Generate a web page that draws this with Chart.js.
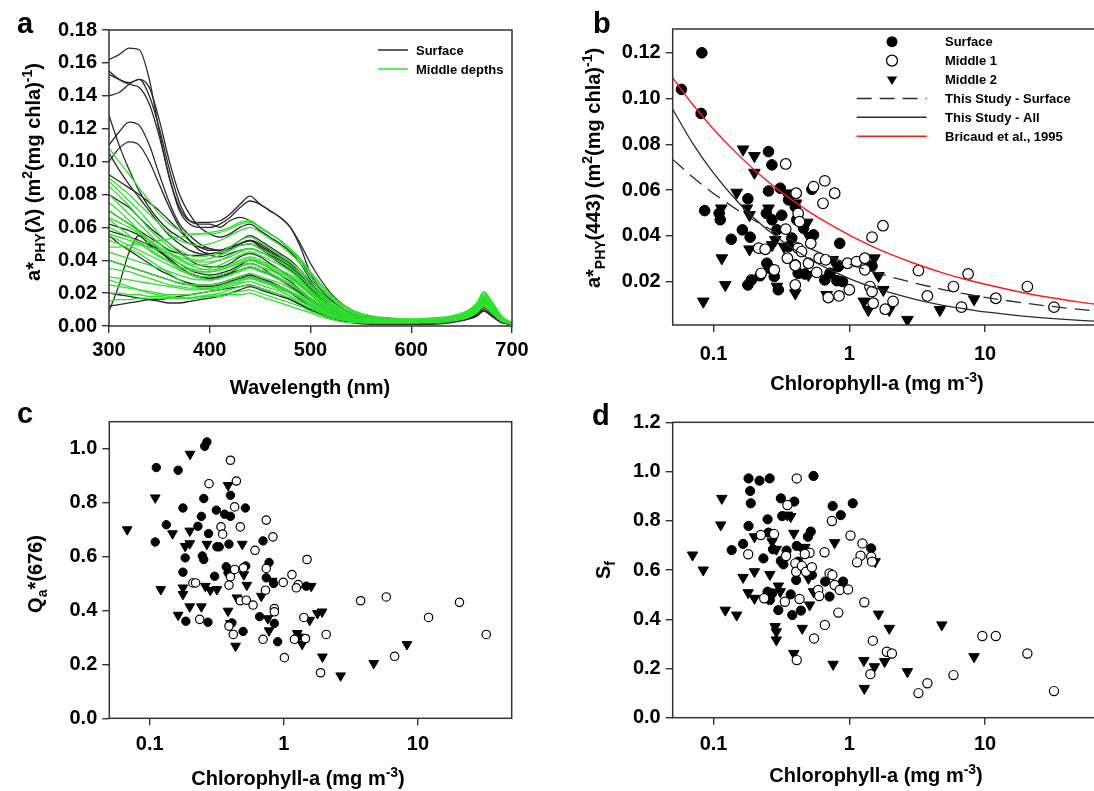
<!DOCTYPE html>
<html lang="en">
<head>
<meta charset="UTF-8">
<title>Phytoplankton absorption – four panels</title>
<script src="https://cdn.jsdelivr.net/npm/chart.js"></script>
<style>
  html, body { margin: 0; padding: 0; background: #fff; overflow: hidden; }
  body { width: 1094px; height: 791px; position: relative; }
  canvas { position: absolute; }
</style>
</head>
<body>
<canvas id="panelA" style="left:0;top:0" width="547" height="402"></canvas>
<canvas id="panelB" style="left:550px;top:0" width="580" height="402"></canvas>
<canvas id="panelC" style="left:0;top:395px" width="547" height="396"></canvas>
<canvas id="panelD" style="left:550px;top:395px" width="580" height="396"></canvas>
<script>
// ---- panel a: specific absorption spectra ----
const waveNm = [300,310,320,330,340,350,360,370,380,390,400,410,420,430,440,450,460,470,480,490,500,520,540,560,580,600,620,640,655,665,672,680,690,700];
const waveTicks = [300, 400, 500, 600, 700];
const aphyTicks = [0, 0.02, 0.04, 0.06, 0.08, 0.10, 0.12, 0.14, 0.16, 0.18];

const surfaceSpectra = [
  [0.162,0.165,0.169,0.168,0.150,0.118,0.090,0.072,0.064,0.063,0.063,0.064,0.068,0.074,0.079,0.074,0.070,0.066,0.060,0.050,0.038,0.020,0.010,0.006,0.004,0.003,0.003,0.004,0.006,0.010,0.016,0.012,0.004,0.001],
  [0.155,0.150,0.147,0.145,0.135,0.115,0.090,0.070,0.062,0.060,0.060,0.062,0.066,0.072,0.076,0.074,0.070,0.066,0.060,0.048,0.032,0.016,0.008,0.005,0.004,0.003,0.003,0.004,0.006,0.010,0.015,0.011,0.004,0.001],
  [0.153,0.150,0.148,0.150,0.140,0.120,0.095,0.075,0.064,0.062,0.062,0.060,0.064,0.066,0.064,0.060,0.056,0.052,0.046,0.040,0.030,0.016,0.008,0.005,0.004,0.003,0.003,0.004,0.006,0.010,0.015,0.011,0.004,0.001],
  [0.140,0.142,0.147,0.150,0.145,0.125,0.100,0.080,0.068,0.060,0.056,0.054,0.056,0.060,0.062,0.058,0.054,0.050,0.045,0.038,0.028,0.014,0.007,0.004,0.003,0.003,0.003,0.004,0.006,0.010,0.016,0.012,0.004,0.001],
  [0.128,0.110,0.095,0.082,0.072,0.064,0.058,0.054,0.050,0.048,0.047,0.046,0.048,0.050,0.052,0.050,0.046,0.042,0.038,0.032,0.024,0.012,0.006,0.004,0.003,0.003,0.003,0.004,0.006,0.010,0.015,0.011,0.004,0.001],
  [0.110,0.118,0.124,0.122,0.110,0.092,0.075,0.062,0.055,0.050,0.047,0.046,0.048,0.052,0.055,0.052,0.048,0.044,0.040,0.034,0.026,0.013,0.006,0.004,0.003,0.003,0.003,0.004,0.006,0.010,0.016,0.012,0.004,0.001],
  [0.100,0.108,0.112,0.110,0.100,0.086,0.072,0.060,0.052,0.046,0.044,0.044,0.046,0.050,0.052,0.048,0.044,0.040,0.036,0.030,0.022,0.011,0.005,0.003,0.003,0.003,0.003,0.004,0.006,0.009,0.014,0.010,0.004,0.001],
  [0.105,0.095,0.086,0.078,0.070,0.062,0.055,0.050,0.046,0.044,0.043,0.042,0.044,0.046,0.047,0.045,0.042,0.038,0.034,0.029,0.022,0.011,0.005,0.003,0.003,0.003,0.003,0.004,0.006,0.009,0.014,0.010,0.004,0.001],
  [0.080,0.076,0.072,0.066,0.060,0.055,0.050,0.045,0.040,0.037,0.036,0.036,0.038,0.042,0.044,0.042,0.038,0.034,0.030,0.025,0.019,0.010,0.005,0.003,0.002,0.002,0.002,0.003,0.005,0.008,0.013,0.009,0.003,0.001],
  [0.062,0.060,0.058,0.055,0.050,0.046,0.042,0.038,0.034,0.032,0.031,0.032,0.034,0.037,0.040,0.038,0.035,0.031,0.027,0.022,0.017,0.009,0.004,0.003,0.002,0.002,0.002,0.003,0.005,0.008,0.012,0.009,0.003,0.001],
  [0.058,0.056,0.054,0.052,0.049,0.045,0.041,0.036,0.032,0.030,0.029,0.030,0.032,0.034,0.036,0.034,0.031,0.028,0.025,0.021,0.016,0.008,0.004,0.002,0.002,0.002,0.002,0.003,0.005,0.008,0.012,0.008,0.003,0.001],
  [0.055,0.050,0.046,0.042,0.038,0.034,0.031,0.028,0.026,0.025,0.025,0.026,0.028,0.030,0.031,0.029,0.027,0.024,0.021,0.017,0.013,0.007,0.003,0.002,0.002,0.002,0.002,0.003,0.005,0.007,0.011,0.008,0.003,0.001],
  [0.040,0.038,0.036,0.034,0.032,0.030,0.028,0.026,0.025,0.024,0.024,0.025,0.027,0.029,0.030,0.028,0.026,0.023,0.020,0.016,0.012,0.006,0.003,0.002,0.002,0.002,0.002,0.003,0.004,0.007,0.010,0.007,0.003,0.001],
  [0.020,0.019,0.018,0.017,0.016,0.015,0.014,0.014,0.015,0.016,0.017,0.018,0.020,0.022,0.024,0.022,0.020,0.018,0.016,0.013,0.010,0.005,0.003,0.002,0.002,0.002,0.002,0.003,0.004,0.006,0.009,0.006,0.002,0.001],
  [0.009,0.025,0.045,0.055,0.052,0.046,0.040,0.035,0.032,0.030,0.029,0.030,0.032,0.036,0.038,0.036,0.032,0.028,0.024,0.020,0.015,0.008,0.004,0.002,0.002,0.002,0.002,0.003,0.005,0.008,0.012,0.008,0.003,0.001],
  [0.012,0.013,0.014,0.015,0.016,0.016,0.017,0.018,0.019,0.020,0.021,0.022,0.023,0.024,0.025,0.023,0.021,0.019,0.016,0.013,0.010,0.005,0.002,0.001,0.001,0.001,0.001,0.002,0.004,0.006,0.009,0.006,0.002,0.001],
  [0.070,0.066,0.062,0.058,0.054,0.050,0.046,0.044,0.043,0.043,0.044,0.045,0.047,0.049,0.050,0.047,0.043,0.039,0.035,0.030,0.023,0.011,0.005,0.003,0.002,0.002,0.002,0.003,0.005,0.009,0.014,0.010,0.004,0.001],
  [0.092,0.088,0.084,0.080,0.075,0.070,0.064,0.058,0.052,0.048,0.046,0.046,0.048,0.050,0.052,0.049,0.045,0.041,0.037,0.031,0.024,0.012,0.005,0.003,0.003,0.003,0.003,0.004,0.006,0.010,0.015,0.011,0.004,0.001]
];

const middleSpectra = [
  [0.108,0.100,0.092,0.084,0.076,0.068,0.062,0.058,0.056,0.056,0.057,0.058,0.060,0.063,0.064,0.060,0.056,0.052,0.046,0.040,0.032,0.018,0.010,0.006,0.005,0.004,0.005,0.006,0.009,0.014,0.021,0.015,0.006,0.002],
  [0.090,0.085,0.080,0.074,0.068,0.062,0.056,0.052,0.050,0.049,0.050,0.052,0.055,0.058,0.060,0.057,0.053,0.049,0.044,0.038,0.030,0.017,0.009,0.005,0.004,0.004,0.004,0.006,0.008,0.013,0.020,0.014,0.005,0.002],
  [0.088,0.082,0.076,0.070,0.063,0.056,0.050,0.046,0.043,0.042,0.043,0.045,0.048,0.052,0.054,0.051,0.047,0.043,0.039,0.034,0.027,0.015,0.008,0.005,0.004,0.004,0.004,0.005,0.008,0.012,0.019,0.013,0.005,0.002],
  [0.085,0.079,0.073,0.066,0.059,0.053,0.048,0.044,0.041,0.040,0.041,0.043,0.046,0.049,0.050,0.047,0.044,0.041,0.037,0.032,0.025,0.014,0.007,0.004,0.004,0.004,0.004,0.005,0.008,0.012,0.018,0.013,0.005,0.002],
  [0.080,0.074,0.068,0.062,0.056,0.050,0.045,0.041,0.038,0.037,0.038,0.040,0.043,0.046,0.047,0.045,0.042,0.039,0.035,0.030,0.024,0.013,0.007,0.004,0.004,0.003,0.004,0.005,0.008,0.012,0.018,0.012,0.005,0.002],
  [0.075,0.070,0.064,0.058,0.052,0.047,0.042,0.038,0.035,0.034,0.035,0.037,0.040,0.043,0.045,0.043,0.040,0.037,0.033,0.028,0.022,0.012,0.006,0.004,0.003,0.003,0.004,0.005,0.007,0.011,0.017,0.012,0.004,0.002],
  [0.070,0.066,0.062,0.057,0.052,0.047,0.042,0.038,0.035,0.033,0.033,0.034,0.036,0.039,0.041,0.039,0.036,0.033,0.030,0.026,0.020,0.011,0.006,0.004,0.003,0.003,0.003,0.005,0.007,0.011,0.016,0.011,0.004,0.002],
  [0.066,0.063,0.060,0.056,0.052,0.048,0.044,0.040,0.037,0.035,0.034,0.035,0.037,0.040,0.042,0.040,0.037,0.034,0.031,0.027,0.021,0.011,0.006,0.004,0.003,0.003,0.003,0.005,0.007,0.011,0.017,0.012,0.004,0.002],
  [0.060,0.057,0.054,0.051,0.047,0.043,0.039,0.035,0.032,0.030,0.030,0.031,0.033,0.036,0.038,0.036,0.034,0.031,0.028,0.024,0.019,0.010,0.005,0.003,0.003,0.003,0.003,0.004,0.007,0.010,0.016,0.011,0.004,0.002],
  [0.056,0.054,0.052,0.050,0.048,0.046,0.044,0.042,0.040,0.039,0.039,0.040,0.042,0.045,0.047,0.045,0.042,0.039,0.035,0.030,0.024,0.013,0.007,0.004,0.003,0.003,0.004,0.005,0.008,0.012,0.018,0.013,0.005,0.002],
  [0.055,0.052,0.049,0.046,0.043,0.040,0.037,0.034,0.031,0.029,0.028,0.029,0.031,0.034,0.036,0.034,0.032,0.029,0.026,0.022,0.017,0.009,0.005,0.003,0.003,0.003,0.003,0.004,0.006,0.010,0.015,0.010,0.004,0.002],
  [0.048,0.048,0.049,0.050,0.051,0.052,0.053,0.054,0.055,0.056,0.056,0.057,0.059,0.062,0.063,0.060,0.056,0.052,0.047,0.041,0.033,0.019,0.010,0.006,0.004,0.004,0.004,0.006,0.009,0.013,0.020,0.014,0.005,0.002],
  [0.045,0.043,0.041,0.039,0.037,0.035,0.033,0.031,0.029,0.028,0.028,0.029,0.031,0.033,0.035,0.033,0.031,0.028,0.025,0.021,0.016,0.009,0.005,0.003,0.003,0.003,0.003,0.004,0.006,0.010,0.015,0.010,0.004,0.002],
  [0.040,0.038,0.036,0.034,0.032,0.030,0.028,0.026,0.025,0.025,0.025,0.026,0.028,0.030,0.032,0.030,0.028,0.026,0.023,0.019,0.015,0.008,0.004,0.003,0.003,0.003,0.003,0.004,0.006,0.009,0.014,0.010,0.004,0.002],
  [0.035,0.034,0.033,0.031,0.029,0.027,0.025,0.024,0.023,0.023,0.023,0.024,0.026,0.028,0.030,0.028,0.026,0.024,0.021,0.018,0.014,0.008,0.004,0.003,0.003,0.003,0.003,0.004,0.006,0.009,0.014,0.009,0.004,0.002],
  [0.030,0.029,0.028,0.027,0.026,0.025,0.024,0.023,0.022,0.022,0.023,0.024,0.026,0.028,0.029,0.027,0.025,0.023,0.020,0.017,0.013,0.007,0.004,0.003,0.002,0.002,0.003,0.004,0.006,0.009,0.013,0.009,0.003,0.002],
  [0.025,0.024,0.023,0.022,0.021,0.020,0.019,0.019,0.019,0.020,0.021,0.022,0.024,0.026,0.027,0.025,0.023,0.021,0.018,0.015,0.012,0.006,0.003,0.002,0.002,0.002,0.003,0.004,0.005,0.008,0.013,0.009,0.003,0.002],
  [0.020,0.020,0.019,0.019,0.018,0.018,0.017,0.017,0.017,0.018,0.018,0.019,0.020,0.021,0.022,0.020,0.018,0.016,0.014,0.012,0.009,0.005,0.003,0.002,0.002,0.002,0.002,0.003,0.005,0.008,0.012,0.008,0.003,0.001],
  [0.015,0.016,0.016,0.017,0.017,0.017,0.017,0.017,0.017,0.017,0.018,0.018,0.019,0.019,0.020,0.018,0.016,0.014,0.012,0.010,0.008,0.004,0.002,0.002,0.002,0.002,0.002,0.003,0.005,0.008,0.012,0.008,0.003,0.001],
  [0.065,0.060,0.055,0.050,0.046,0.042,0.039,0.036,0.034,0.033,0.033,0.034,0.036,0.038,0.040,0.038,0.035,0.032,0.029,0.025,0.020,0.011,0.006,0.004,0.003,0.003,0.003,0.005,0.007,0.011,0.017,0.012,0.004,0.002],
  [0.052,0.050,0.047,0.044,0.040,0.036,0.032,0.028,0.025,0.023,0.022,0.023,0.025,0.027,0.029,0.027,0.025,0.022,0.020,0.017,0.013,0.007,0.004,0.003,0.002,0.002,0.003,0.004,0.006,0.009,0.014,0.009,0.003,0.002],
  [0.028,0.026,0.024,0.022,0.020,0.019,0.018,0.017,0.017,0.018,0.019,0.020,0.022,0.024,0.025,0.023,0.021,0.019,0.017,0.014,0.011,0.006,0.003,0.002,0.002,0.002,0.003,0.004,0.005,0.008,0.012,0.008,0.003,0.002]
];

// ---- panel b: a*PHY(443) vs chlorophyll ----
const chlTicks = [0.1, 1, 10];
const a443Ticks = [0.02, 0.04, 0.06, 0.08, 0.10, 0.12];
const bSurfChl = [0.058,0.082,0.081,0.086,0.11,0.112,0.135,0.163,0.179,0.186,0.179,0.19,0.22,0.254,0.269,0.254,0.31,0.357,0.318,0.245,0.27,0.293,0.40,0.41,0.377,0.46,0.545,0.53,0.247,0.26,0.28,0.30,0.40,0.42,0.47,0.66,0.72,0.85,0.81,0.89,0.83,1.47,0.357];
const bSurfA = [0.104,0.120,0.0935,0.051,0.0498,0.047,0.0385,0.0426,0.0562,0.0394,0.0185,0.0207,0.0225,0.0768,0.071,0.0596,0.0608,0.0557,0.049,0.0498,0.047,0.0426,0.0527,0.047,0.039,0.0433,0.0404,0.0603,0.028,0.0258,0.0222,0.0164,0.0273,0.0236,0.0233,0.0207,0.0236,0.0367,0.0204,0.02,0.0266,0.0268,0.0353];
const bMid1Chl = [0.34,0.406,0.545,0.66,0.64,0.78,0.42,0.34,0.43,0.215,0.24,0.42,0.445,0.52,0.35,0.40,0.50,0.60,0.67,0.575,0.97,1.13,1.3,1.3,0.40,0.28,0.224,0.70,0.84,1.0,1.47,1.77,1.42,1.47,1.50,1.84,2.1,3.23,3.76,5.85,6.7,7.5,12.0,20.5,32.2];
const bMid1A = [0.0714,0.0586,0.0615,0.064,0.0542,0.0586,0.0498,0.0429,0.0462,0.0346,0.0341,0.0346,0.0331,0.0367,0.0302,0.027,0.028,0.0302,0.0295,0.024,0.028,0.0287,0.0302,0.0251,0.0185,0.0251,0.0236,0.013,0.0137,0.0164,0.0394,0.0444,0.0178,0.0156,0.0105,0.0079,0.0113,0.0248,0.0137,0.0178,0.0088,0.0233,0.0127,0.0178,0.0088];
const bMid2Chl = [0.084,0.115,0.122,0.114,0.165,0.2,0.2,0.148,0.176,0.184,0.184,0.254,0.27,0.285,0.33,0.343,0.406,0.49,0.50,0.50,0.40,0.293,0.68,1.28,1.38,1.53,1.64,1.78,1.97,2.68,4.65,8.3,0.755];
const bMid2A = [0.0113,0.0302,0.0185,0.052,0.0778,0.0749,0.0676,0.0589,0.052,0.0491,0.0341,0.052,0.036,0.0382,0.0353,0.0586,0.0542,0.0458,0.04,0.0229,0.0149,0.0178,0.0142,0.0113,0.0076,0.0302,0.0225,0.0164,0.0076,0.0033,0.0076,0.0123,0.0295];
const fitChl = [0.05,0.07,0.1,0.15,0.2,0.3,0.5,0.7,1,1.5,2,3,5,7,10,20,30,50,100];
const fitSurface = [0.0734,0.0657,0.0585,0.0513,0.0467,0.0410,0.0347,0.0311,0.0277,0.0243,0.0221,0.0194,0.0164,0.0147,0.0131,0.0105,0.0092,0.0078,0.0062];
const fitAll = [0.0953,0.0805,0.0674,0.0550,0.0476,0.0389,0.0301,0.0255,0.0213,0.0174,0.0151,0.0123,0.0095,0.0081,0.0067,0.0048,0.0039,0.0030,0.0021];
const fitBricaud = [0.109,0.0975,0.0866,0.0757,0.0688,0.0601,0.0507,0.0454,0.0403,0.0352,0.0320,0.0280,0.0236,0.0211,0.0188,0.0149,0.0130,0.0110,0.0087];

// ---- panel c: Qa*(676) ----
const qaTicks = [0, 0.2, 0.4, 0.6, 0.8, 1.0];
const cSurfChl = [0.112,0.163,0.110,0.133,0.177,0.184,0.177,0.186,0.229,0.243,0.253,0.247,0.253,0.267,0.257,0.275,0.272,0.314,0.305,0.317,0.33,0.362,0.39,0.372,0.40,0.40,0.384,0.41,0.497,0.517,0.52,0.66,0.70,0.776,0.74,0.84,0.85,0.90,1.47];
const cSurfQ = [0.93,0.92,0.654,0.718,0.78,0.595,0.542,0.36,0.712,0.749,0.815,0.602,0.589,1.025,1.009,0.685,0.356,0.772,0.527,0.636,0.636,0.757,0.646,0.562,0.827,0.749,0.54,0.354,0.322,0.78,0.565,0.377,0.658,0.578,0.521,0.50,0.352,0.284,0.49];
const cMid1Chl = [0.277,0.21,0.22,0.236,0.34,0.35,0.40,0.443,0.43,0.474,0.40,0.39,0.43,0.39,0.42,0.50,0.474,0.525,0.59,0.61,0.74,0.74,0.83,0.73,0.85,0.85,0.70,0.99,1.01,1.15,1.28,1.24,1.49,1.41,1.45,1.2,2.07,1.88,3.74,5.81,6.7,12.0,20.4,32.3];
const cMid1Q = [0.87,0.502,0.502,0.367,0.71,0.683,0.957,0.88,0.784,0.71,0.525,0.494,0.552,0.342,0.311,0.558,0.436,0.438,0.42,0.623,0.735,0.556,0.673,0.475,0.407,0.395,0.293,0.504,0.225,0.533,0.496,0.484,0.589,0.374,0.296,0.293,0.311,0.169,0.436,0.45,0.23,0.374,0.43,0.311];
const cMid2Chl = [0.068,0.11,0.121,0.148,0.163,0.177,0.177,0.184,0.199,0.199,0.199,0.2,0.243,0.26,0.267,0.283,0.317,0.384,0.384,0.40,0.437,0.447,0.49,0.503,0.53,0.68,0.76,0.776,0.82,1.26,1.29,1.37,1.56,1.6,1.78,1.93,1.94,2.65,4.68,8.28];
const cMid2Q = [0.70,0.818,0.478,0.685,0.383,0.484,0.46,0.638,0.648,0.695,0.414,0.98,0.414,0.49,0.646,0.475,0.478,0.864,0.398,0.352,0.268,0.447,0.646,0.533,0.494,0.453,0.37,0.325,0.509,0.315,0.302,0.275,0.364,0.49,0.389,0.395,0.228,0.158,0.204,0.274];

// ---- panel d: Sf ----
const sfTicks = [0, 0.2, 0.4, 0.6, 0.8, 1.0, 1.2];
const dSurfChl = [0.181,0.218,0.259,0.545,0.186,0.188,0.313,0.393,0.754,0.865,1.06,0.181,0.25,0.32,0.136,0.165,0.233,0.254,0.274,0.345,0.41,0.495,0.52,0.406,0.53,0.327,0.313,0.42,0.664,0.9,0.715,0.25,0.27,0.26,0.30,0.38,0.44,0.37,1.45];
const dSurfS = [0.972,0.963,0.972,0.982,0.921,0.871,0.891,0.878,0.86,0.823,0.871,0.779,0.806,0.819,0.681,0.706,0.647,0.752,0.684,0.679,0.698,0.735,0.756,0.559,0.58,0.623,0.637,0.634,0.553,0.553,0.492,0.512,0.505,0.478,0.437,0.417,0.435,0.501,0.688];
const dMid1Chl = [0.41,0.35,0.18,0.223,0.279,0.342,0.40,0.406,0.447,0.48,0.51,0.47,0.53,0.657,0.744,0.715,0.75,0.78,0.85,0.98,1.02,1.25,1.21,1.14,1.45,1.47,0.59,0.6,0.236,0.335,0.43,0.83,1.29,0.66,0.55,1.49,0.41,1.43,1.89,2.06,3.23,3.76,5.85,9.55,12.0,20.5,32.2];
const dMid1S = [0.972,0.864,0.664,0.742,0.746,0.657,0.627,0.593,0.616,0.593,0.67,0.665,0.611,0.672,0.799,0.586,0.58,0.539,0.519,0.521,0.74,0.708,0.658,0.631,0.654,0.634,0.519,0.494,0.485,0.471,0.482,0.427,0.469,0.377,0.322,0.313,0.234,0.177,0.268,0.261,0.10,0.14,0.173,0.332,0.332,0.261,0.108];
const dMid2Chl = [0.07,0.084,0.115,0.113,0.122,0.148,0.165,0.18,0.2,0.2,0.2,0.26,0.27,0.29,0.30,0.31,0.284,0.29,0.29,0.35,0.37,0.39,0.39,0.45,0.45,0.47,0.50,0.51,0.545,0.76,0.78,1.28,1.29,1.55,1.53,1.64,1.82,1.97,2.68,4.8,8.3];
const dMid2S = [0.661,0.60,0.891,0.783,0.437,0.417,0.57,0.508,0.593,0.735,0.485,0.582,0.715,0.684,0.535,0.512,0.37,0.349,0.316,0.823,0.817,0.749,0.261,0.363,0.684,0.692,0.566,0.458,0.512,0.217,0.711,0.232,0.119,0.634,0.207,0.421,0.228,0.363,0.187,0.377,0.248];

const FONT = '"Liberation Sans", Arial, Helvetica, sans-serif';
const GREEN = '#2ee22e';
const DARK = '#2b2b2b';

const pairs = (xs, ys) => xs.map((x, i) => ({ x: x, y: ys[i] }));

// text with sub/superscripts, centred on (cx, cy)
function richText(ctx, parts, cx, cy, rot) {
  const big = 20, small = 14;
  let w = 0;
  parts.forEach(p => {
    ctx.font = 'bold ' + (p[1] ? small : big) + 'px ' + FONT;
    w += ctx.measureText(p[0]).width;
  });
  ctx.save();
  ctx.translate(cx, cy);
  ctx.rotate(rot);
  ctx.textAlign = 'left';
  ctx.textBaseline = 'alphabetic';
  ctx.fillStyle = '#000';
  let x = -w / 2;
  parts.forEach(p => {
    ctx.font = 'bold ' + (p[1] ? small : big) + 'px ' + FONT;
    const dy = p[1] === 'sup' ? -1 : p[1] === 'sub' ? 12 : 7;
    ctx.fillText(p[0], x, dy);
    x += ctx.measureText(p[0]).width;
  });
  ctx.restore();
}

function drawMarker(ctx, kind, x, y, r) {
  ctx.beginPath();
  if (kind === 'tri') {
    ctx.moveTo(x - r * 0.95, y - r * 0.55);
    ctx.lineTo(x + r * 0.95, y - r * 0.55);
    ctx.lineTo(x, y + r);
    ctx.closePath();
    ctx.fillStyle = '#000';
    ctx.fill();
  } else {
    ctx.arc(x, y, r, 0, Math.PI * 2);
    if (kind === 'dot') {
      ctx.fillStyle = '#000';
      ctx.fill();
    } else {
      ctx.fillStyle = '#fff';
      ctx.fill();
      ctx.lineWidth = 1.3;
      ctx.strokeStyle = '#000';
      ctx.stroke();
    }
  }
}

const decor = {
  id: 'decor',
  afterDraw(chart, args, o) {
    const ctx = chart.ctx, a = chart.chartArea;
    ctx.save();
    ctx.strokeStyle = '#333';
    ctx.lineWidth = 1.5;
    ctx.strokeRect(a.left, a.top, a.right - a.left, a.bottom - a.top);
    ctx.fillStyle = '#000';
    ctx.font = 'bold 29px ' + FONT;
    ctx.textAlign = 'left';
    ctx.textBaseline = 'alphabetic';
    ctx.fillText(o.letter[0], o.letter[1], o.letter[2]);
    richText(ctx, o.xTitle[0], o.xTitle[1], o.xTitle[2], 0);
    richText(ctx, o.yTitle[0], o.yTitle[1], o.yTitle[2], -Math.PI / 2);
    if (o.legend) {
      const L = o.legend;
      L.items.forEach((it, i) => {
        const y = L.y + i * L.row;
        if (it.marker) {
          drawMarker(ctx, it.marker, L.markX, y, 5.5);
        } else {
          ctx.beginPath();
          ctx.setLineDash(it.dash || []);
          ctx.strokeStyle = it.color;
          ctx.lineWidth = 1.5;
          ctx.moveTo(L.lineX0, y);
          ctx.lineTo(L.lineX1, y);
          ctx.stroke();
          ctx.setLineDash([]);
        }
        ctx.fillStyle = '#000';
        ctx.font = 'bold 13px ' + FONT;
        ctx.textBaseline = 'middle';
        ctx.fillText(it.text, L.textX, y + 1);
      });
    }
    ctx.restore();
  }
};
Chart.register(decor);

function panelOptions(p) {
  const tickFont = { family: FONT, size: 20, weight: 'bold' };
  return {
    responsive: false,
    animation: false,
    layout: { padding: { left: 0, top: p.top, right: p.right, bottom: 0 } },
    plugins: { legend: { display: false }, tooltip: { enabled: false }, decor: p.decor },
    scales: {
      x: {
        type: p.xType, min: p.xMin, max: p.xMax,
        afterBuildTicks: s => { s.ticks = p.xTicks.map(v => ({ value: v })); },
        afterFit: s => { s.height = p.xHeight; },
        grid: { drawOnChartArea: false, tickLength: 7, color: '#333', lineWidth: 1.4 },
        border: { display: false },
        ticks: { padding: p.xPad, autoSkip: false, maxRotation: 0, color: '#000', font: tickFont,
                 callback: v => p.xFmt(v) }
      },
      y: {
        type: 'linear', min: p.yMin, max: p.yMax,
        afterBuildTicks: s => { s.ticks = p.yTicks.map(v => ({ value: v })); },
        afterFit: s => { s.width = p.yWidth; },
        grid: { drawOnChartArea: false, tickLength: 7, color: '#333', lineWidth: 1.4 },
        border: { display: false },
        ticks: { padding: 5, autoSkip: false, color: '#000', font: tickFont,
                 callback: v => v.toFixed(p.yDec) }
      }
    }
  };
}

const chlFmt = v => String(v);
const chlTitle = [['Chlorophyll-a (mg m'], ['-3', 'sup'], [')']];

function spectraSet(vals, color) {
  return {
    data: pairs(waveNm, vals), showLine: true, pointRadius: 0,
    borderColor: color, borderWidth: 1.3, cubicInterpolationMode: 'monotone'
  };
}
function scatterSets(surf, mid1, mid2, r) {
  return [
    { data: mid1, pointStyle: 'circle', pointRadius: r, backgroundColor: '#fff', borderColor: '#000', borderWidth: 1.2 },
    { data: surf, pointStyle: 'circle', pointRadius: r, backgroundColor: '#000', borderColor: '#000', borderWidth: 1 },
    { data: mid2, pointStyle: 'triangle', pointRotation: 180, pointRadius: r + 1.4, backgroundColor: '#000', borderColor: '#000', borderWidth: 1 }
  ];
}

// panel a
new Chart(document.getElementById('panelA'), {
  type: 'scatter',
  data: {
    datasets: middleSpectra.map(v => spectraSet(v, GREEN)).concat(surfaceSpectra.map(v => spectraSet(v, DARK)))
  },
  options: panelOptions({
    top: 30, right: 35, xHeight: 76, yWidth: 109, xPad: 5,
    xType: 'linear', xMin: 300, xMax: 700, xTicks: waveTicks, xFmt: v => String(v),
    yMin: 0, yMax: 0.18, yTicks: aphyTicks, yDec: 2,
    decor: {
      letter: ['a', 17, 33],
      xTitle: [[['Wavelength (nm)']], 310, 387],
      yTitle: [[['a*'], ['PHY', 'sub'], ['(λ) (m'], ['2', 'sup'], ['(mg chla)'], ['-1', 'sup'], [')']], 33, 172],
      legend: { y: 50, row: 19, lineX0: 378, lineX1: 408, textX: 416,
        items: [{ color: DARK, text: 'Surface' }, { color: GREEN, text: 'Middle depths' }] }
    }
  })
});

// panel b
new Chart(document.getElementById('panelB'), {
  type: 'scatter',
  data: {
    datasets: [
      { data: pairs(fitChl, fitBricaud), showLine: true, pointRadius: 0, borderColor: '#ff1a1a', borderWidth: 1.4, cubicInterpolationMode: 'monotone' },
      { data: pairs(fitChl, fitAll), showLine: true, pointRadius: 0, borderColor: DARK, borderWidth: 1.3, cubicInterpolationMode: 'monotone' },
      { data: pairs(fitChl, fitSurface), showLine: true, pointRadius: 0, borderColor: DARK, borderWidth: 1.3, borderDash: [15, 8], cubicInterpolationMode: 'monotone' }
    ].concat(scatterSets(pairs(bSurfChl, bSurfA), pairs(bMid1Chl, bMid1A), pairs(bMid2Chl, bMid2A), 5.3))
  },
  options: panelOptions({
    top: 29, right: 9.2, xHeight: 77, yWidth: 122.7, xPad: 10,
    xType: 'logarithmic', xMin: 0.05, xMax: 100, xTicks: chlTicks, xFmt: chlFmt,
    yMin: 0.001, yMax: 0.1304, yTicks: a443Ticks, yDec: 2,
    decor: {
      letter: ['b', 43, 33],
      xTitle: [chlTitle, 327, 383],
      yTitle: [[['a*'], ['PHY', 'sub'], ['(443) (m'], ['2', 'sup'], ['(mg chla)'], ['-1', 'sup'], [')']], 43, 168],
      legend: { y: 41.7, row: 18.9, markX: 342, lineX0: 306.7, lineX1: 376.7, textX: 395,
        items: [
          { marker: 'dot', text: 'Surface' },
          { marker: 'ring', text: 'Middle 1' },
          { marker: 'tri', text: 'Middle 2' },
          { color: DARK, dash: [15, 8], text: 'This Study - Surface' },
          { color: DARK, text: 'This Study - All' },
          { color: '#ff1a1a', text: 'Bricaud et al., 1995' }
        ] }
    }
  })
});

// panel c
new Chart(document.getElementById('panelC'), {
  type: 'scatter',
  data: { datasets: scatterSets(pairs(cSurfChl, cSurfQ), pairs(cMid1Chl, cMid1Q), pairs(cMid2Chl, cMid2Q), 4.2) },
  options: panelOptions({
    top: 26.7, right: 35.3, xHeight: 72.7, yWidth: 109.3, xPad: 7,
    xType: 'logarithmic', xMin: 0.05, xMax: 50, xTicks: chlTicks, xFmt: chlFmt,
    yMin: 0, yMax: 1.1, yTicks: qaTicks, yDec: 1,
    decor: {
      letter: ['c', 17, 28],
      xTitle: [chlTitle, 298, 383],
      yTitle: [[['Q'], ['a', 'sub'], ['*(676)']], 35, 179]
    }
  })
});

// panel d
new Chart(document.getElementById('panelD'), {
  type: 'scatter',
  data: { datasets: scatterSets(pairs(dSurfChl, dSurfS), pairs(dMid1Chl, dMid1S), pairs(dMid2Chl, dMid2S), 4.6) },
  options: panelOptions({
    top: 27.3, right: 9.2, xHeight: 73.3, yWidth: 122.7, xPad: 8,
    xType: 'logarithmic', xMin: 0.05, xMax: 100, xTicks: chlTicks, xFmt: chlFmt,
    yMin: 0, yMax: 1.2, yTicks: sfTicks, yDec: 1,
    decor: {
      letter: ['d', 42, 30],
      xTitle: [chlTitle, 326, 380],
      yTitle: [[['S'], ['f', 'sub']], 53, 175]
    }
  })
});
</script>
</body>
</html>
